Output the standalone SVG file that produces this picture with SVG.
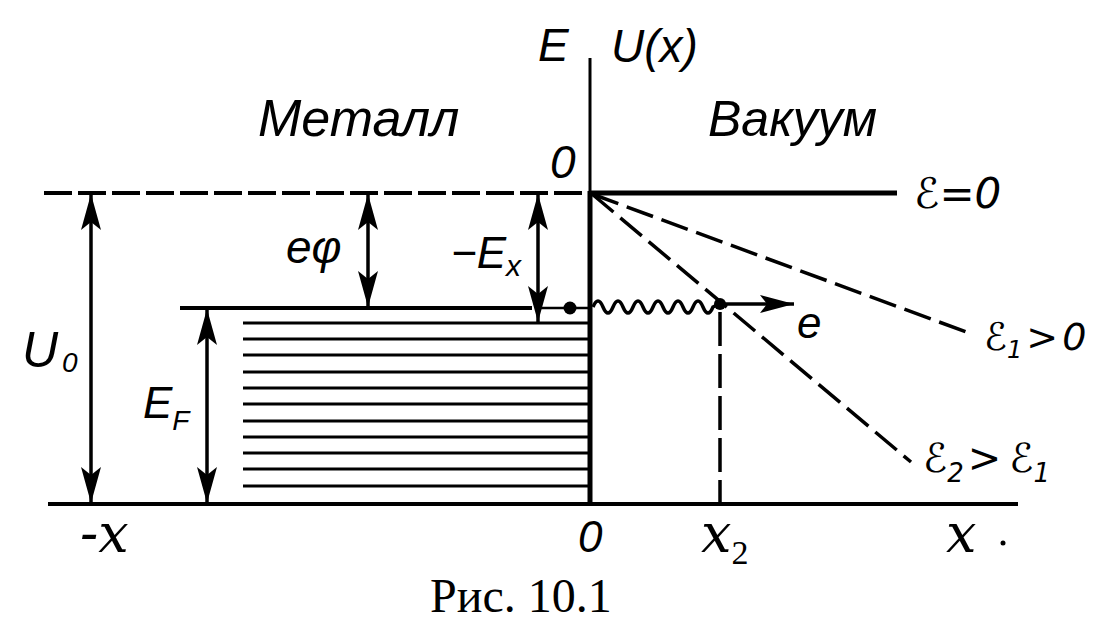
<svg xmlns="http://www.w3.org/2000/svg" width="1097" height="623" viewBox="0 0 1097 623">
<style>
.ln{stroke:#000;fill:none;stroke-linecap:butt}
.t{font-family:"Liberation Sans","DejaVu Sans",sans-serif;font-style:italic;fill:#000}
.s{font-family:"DejaVu Serif","Liberation Serif",serif;font-style:italic;fill:#000}
.sc{font-family:"DejaVu Sans","Noto Sans",sans-serif;font-style:italic;fill:#000}
.cap{font-family:"Liberation Serif","DejaVu Serif",serif;fill:#000}
</style>
<defs>
<marker id="ah" viewBox="0 0 36 22" refX="36" refY="11" markerWidth="36" markerHeight="22" markerUnits="userSpaceOnUse" orient="auto-start-reverse">
<path d="M0,1 L36,11 L0,21 L8,11 z" fill="#000"/>
</marker>
<marker id="ah2" viewBox="0 0 34 20" refX="34" refY="10" markerWidth="34" markerHeight="20" markerUnits="userSpaceOnUse" orient="auto">
<path d="M0,1 L34,10 L0,19 L7,10 z" fill="#000"/>
</marker>
</defs>
<rect width="1097" height="623" fill="#fff"/>
<g id="connectors">
<line class="ln" x1="590" y1="58" x2="590" y2="195" stroke-width="3"/>
<line class="ln" x1="590" y1="191" x2="590" y2="506" stroke-width="5"/>
<line class="ln" x1="44" y1="193" x2="590" y2="193" stroke-width="4" stroke-dasharray="28,6"/>
<line class="ln" x1="590" y1="193" x2="897" y2="193" stroke-width="5"/>
<line class="ln" x1="48" y1="504" x2="1018" y2="504" stroke-width="4"/>
<line class="ln" x1="180" y1="308" x2="532" y2="308" stroke-width="4"/>
<line class="ln" x1="540" y1="308" x2="588" y2="308" stroke-width="2.5"/>
<circle cx="570" cy="308" r="6.5" fill="#000"/>
<g class="ln" stroke-width="3">
<line x1="243" y1="323" x2="588" y2="323"/>
<line x1="243" y1="339" x2="588" y2="339"/>
<line x1="243" y1="355" x2="588" y2="355"/>
<line x1="243" y1="372" x2="588" y2="372"/>
<line x1="243" y1="388" x2="588" y2="388"/>
<line x1="243" y1="404" x2="588" y2="404"/>
<line x1="243" y1="421" x2="588" y2="421"/>
<line x1="243" y1="437" x2="588" y2="437"/>
<line x1="243" y1="453" x2="588" y2="453"/>
<line x1="243" y1="469" x2="588" y2="469"/>
<line x1="243" y1="486" x2="588" y2="486"/>
</g>
<line class="ln" x1="592" y1="194" x2="969" y2="333" stroke-width="3.5" stroke-dasharray="28,9"/>
<line class="ln" x1="592" y1="194" x2="911" y2="462" stroke-width="3.5" stroke-dasharray="28,9"/>
<line class="ln" x1="720" y1="312" x2="720" y2="503" stroke-width="3.5" stroke-dasharray="34,8"/>
<path class="ln" stroke-width="3.5" d="M593,307 q5,-12 10,0 t10,0 t10,0 t10,0 t10,0 t10,0 t10,0 t10,0 t10,0 t10,0 t10,0 t10,0 L719,304"/>
<line class="ln" x1="720" y1="304" x2="794" y2="304" stroke-width="3.5" marker-end="url(#ah2)"/>
<circle cx="720" cy="304" r="6" fill="#000"/>
<line class="ln" x1="91" y1="194" x2="91" y2="503" stroke-width="3.5" marker-start="url(#ah)" marker-end="url(#ah)"/>
<line class="ln" x1="368" y1="194" x2="368" y2="307" stroke-width="3.5" marker-start="url(#ah)" marker-end="url(#ah)"/>
<line class="ln" x1="538" y1="194" x2="538" y2="322" stroke-width="3.5" marker-start="url(#ah)" marker-end="url(#ah)"/>
<line class="ln" x1="207" y1="309" x2="207" y2="503" stroke-width="3.5" marker-start="url(#ah)" marker-end="url(#ah)"/>
</g>
<g id="labels">
<text class="t" x="538" y="61" font-size="46">E</text>
<text class="t" x="611" y="62" font-size="46">U(x)</text>
<text class="t" x="550" y="178" font-size="46">0</text>
<text class="t" x="258" y="136" font-size="52">Металл</text>
<text class="t" x="708" y="136" font-size="50">Вакуум</text>
<text class="t" x="286" y="263" font-size="46">eφ</text>
<text class="t" x="451" y="268" font-size="44">−E<tspan font-size="30" dy="8">x</tspan></text>
<text class="t" x="143" y="418" font-size="44">E<tspan font-size="28" dy="12">F</tspan></text>
<text class="t" x="22" y="367" font-size="50">U<tspan font-size="28" dx="4" dy="5">0</tspan></text>
<text class="sc" x="914" y="208" font-size="42">ℰ=0</text>
<text class="sc" x="984" y="350" font-size="38">ℰ<tspan font-size="24" dy="8">1</tspan><tspan dy="-8" dx="4">&gt;</tspan><tspan dx="4">0</tspan></text>
<text class="sc" x="923" y="472" font-size="40">ℰ<tspan font-size="26" dy="10">2</tspan><tspan dy="-10" dx="4">&gt;</tspan><tspan dx="8">ℰ</tspan><tspan font-size="26" dy="10">1</tspan></text>
<text class="t" x="797" y="338" font-size="44">e</text>
<text class="s" x="80" y="552" font-size="54">-x</text>
<text class="t" x="578" y="552" font-size="44">0</text>
<text class="s" x="701" y="552" font-size="54">x<tspan class="cap" font-style="normal" font-size="34" dy="12">2</tspan></text>
<text class="s" x="946" y="552" font-size="54">x</text>
<circle cx="1003" cy="543" r="2.5" fill="#000"/>
<text class="cap" x="430" y="612" font-size="48">Рис. 10.1</text>
</g>
</svg>
